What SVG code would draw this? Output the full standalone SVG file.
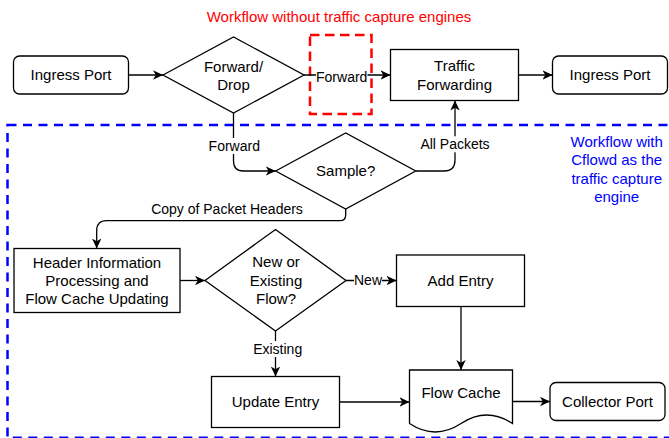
<svg xmlns="http://www.w3.org/2000/svg" width="669" height="438" viewBox="0 0 669 438">
  <style>
    .box { fill: #fff; stroke: #000; stroke-width: 1.3; }
    .edge { fill: none; stroke: #000; stroke-width: 1.3; marker-end: url(#arrow); }
    .lbl-bg { fill: #fff; }
    text { font-family: "Liberation Sans", Arial, Helvetica, sans-serif; text-anchor: middle; fill: #000; }
    .node { font-size: 15px; }
    .elabel { font-size: 14px; }
    .note-red { font-size: 15px; fill: #ff0000; }
    .note-blue { font-size: 15px; fill: #0000ff; }
  </style>
  <defs>
    <marker id="arrow" viewBox="0 0 10 10" refX="10" refY="5" markerWidth="10" markerHeight="10" markerUnits="userSpaceOnUse" orient="auto">
      <path d="M0,0.3 L10,5 L0,9.7 L2.8,5 Z" fill="#000"/>
    </marker>
  </defs>

  <rect width="669" height="438" fill="#fff"/>

  <!-- workflow regions -->
  <g id="region-cflowd">
    <rect x="7.5" y="125" width="680" height="312.8" fill="none" stroke="#0000ff" stroke-width="2.5" stroke-dasharray="9 6.5"/>
    <text class="note-blue" x="616.7" y="147">Workflow with</text>
    <text class="note-blue" x="616.7" y="165.3">Cflowd as the</text>
    <text class="note-blue" x="616.7" y="183.6">traffic capture</text>
    <text class="note-blue" x="616.7" y="202">engine</text>
  </g>
  <g id="region-plain">
    <rect x="310" y="35" width="61.5" height="79" fill="none" stroke="#ff0000" stroke-width="2.5" stroke-dasharray="9.5 5.5"/>
    <text class="note-red" x="339" y="22">Workflow without traffic capture engines</text>
  </g>

  <!-- connectors -->
  <g id="connectors">
    <path class="edge" d="M128.5,75 H163"/>
    <path class="edge" d="M304,75 H390.5"/>
    <path class="edge" d="M518.5,75 H552.5"/>
    <path class="edge" d="M233.5,113 V161 Q233.5,171 243.5,171 H275.7"/>
    <path class="edge" d="M415.7,171 H444 Q455,171 455,160 V100.5"/>
    <path class="edge" d="M345.7,209 V215 Q345.7,220.7 340,220.7 H106.7 Q96.7,220.7 96.7,230.7 V248.5"/>
    <path class="edge" d="M180,280.5 H205"/>
    <path class="edge" d="M346,280.5 H396.5"/>
    <path class="edge" d="M275.5,331 V376.5"/>
    <path class="edge" d="M461,306.5 V370"/>
    <path class="edge" d="M339.5,402 H409.5"/>
    <path class="edge" d="M512.5,401.5 H550"/>

    <!-- edge labels -->
    <rect class="lbl-bg" x="316" y="68.5" width="51.5" height="16"/>
    <text class="elabel" x="341.7" y="81.5">Forward</text>
    <rect class="lbl-bg" x="208.5" y="138" width="51.5" height="16"/>
    <text class="elabel" x="234.3" y="151">Forward</text>
    <rect class="lbl-bg" x="420.3" y="136.3" width="69.4" height="16"/>
    <text class="elabel" x="455" y="149.3">All Packets</text>
    <text class="elabel" x="227" y="214.3">Copy of Packet Headers</text>
    <rect class="lbl-bg" x="354" y="272.5" width="28" height="16"/>
    <text class="elabel" x="368" y="285">New</text>
    <rect class="lbl-bg" x="253" y="341" width="49.5" height="16"/>
    <text class="elabel" x="277.7" y="354">Existing</text>
  </g>

  <!-- nodes -->
  <g id="ingress-port">
    <rect class="box" x="13.5" y="56" width="115" height="38" rx="6"/>
    <text class="node" x="71" y="80.4">Ingress Port</text>
  </g>
  <g id="forward-drop">
    <path class="box" d="M163,75 L233.5,37 L304,75 L233.5,113 Z"/>
    <text class="node" x="233.5" y="72.4">Forward/</text>
    <text class="node" x="233.5" y="90.4">Drop</text>
  </g>
  <g id="traffic-forwarding">
    <rect class="box" x="390.5" y="49.5" width="128" height="51"/>
    <text class="node" x="454.5" y="71">Traffic</text>
    <text class="node" x="454.5" y="89.6">Forwarding</text>
  </g>
  <g id="egress-port">
    <rect class="box" x="552.5" y="56" width="115" height="38" rx="6"/>
    <text class="node" x="610" y="80.4">Ingress Port</text>
  </g>
  <g id="sample">
    <path class="box" d="M275.7,171 L345.7,133 L415.7,171 L345.7,209 Z"/>
    <text class="node" x="345.7" y="176.4">Sample?</text>
  </g>
  <g id="header-processing">
    <rect class="box" x="14" y="248.5" width="166" height="64"/>
    <text class="node" x="97" y="267.6">Header Information</text>
    <text class="node" x="97" y="285.8">Processing and</text>
    <text class="node" x="97" y="304.2">Flow Cache Updating</text>
  </g>
  <g id="new-or-existing">
    <path class="box" d="M205,280.5 L275.5,229.5 L346,280.5 L275.5,331 Z"/>
    <text class="node" x="276" y="267">New or</text>
    <text class="node" x="276" y="286">Existing</text>
    <text class="node" x="276" y="304.4">Flow?</text>
  </g>
  <g id="add-entry">
    <rect class="box" x="396.5" y="255" width="128" height="51.5"/>
    <text class="node" x="460.5" y="286.2">Add Entry</text>
  </g>
  <g id="update-entry">
    <rect class="box" x="211.5" y="376.5" width="128" height="51"/>
    <text class="node" x="275.5" y="407.4">Update Entry</text>
  </g>
  <g id="flow-cache">
    <path class="box" d="M409.5,370 H512.5 V423.5 Q486.75,406.5 461,423.5 Q435.25,440.5 409.5,423.5 Z"/>
    <text class="node" x="461" y="397.7">Flow Cache</text>
  </g>
  <g id="collector-port">
    <rect class="box" x="550" y="382.5" width="115" height="38" rx="6"/>
    <text class="node" x="607.5" y="407">Collector Port</text>
  </g>
</svg>
